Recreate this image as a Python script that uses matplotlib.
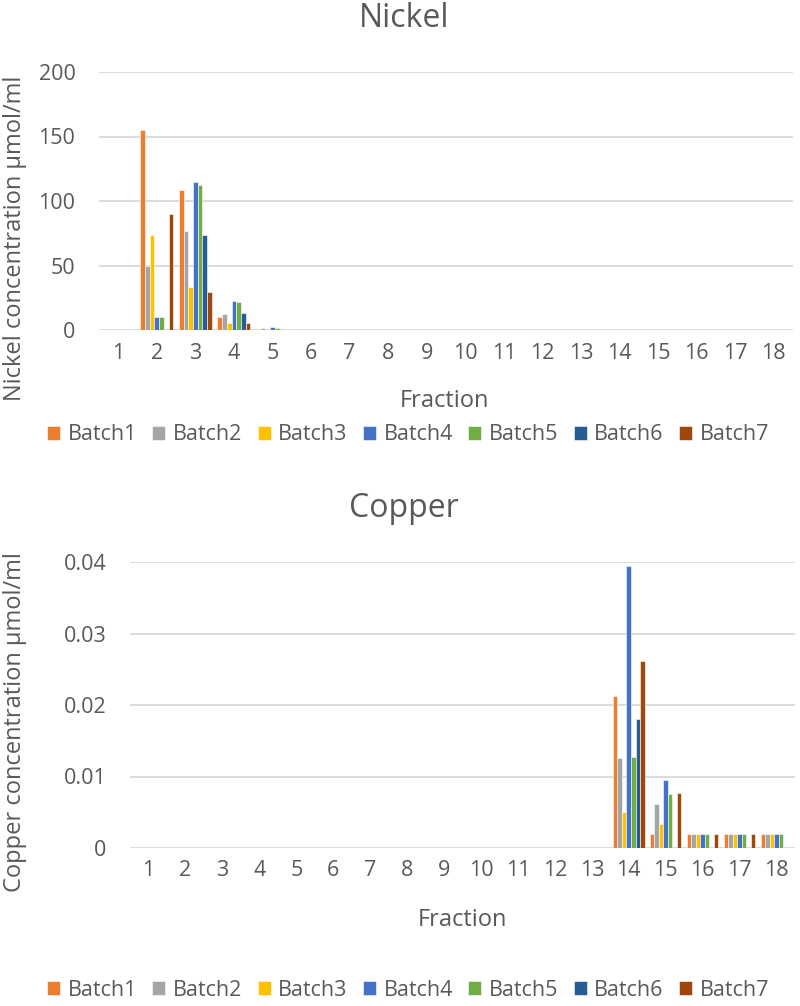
import numpy as np
import matplotlib.pyplot as plt

plt.rcParams['font.family'] = ['Open Sans', 'DejaVu Sans']

fractions = [str(i) for i in range(1, 19)]
batches = ['Batch1', 'Batch2', 'Batch3', 'Batch4', 'Batch5', 'Batch6', 'Batch7']
colors = ['#ED7D31', '#A5A5A5', '#FFC000', '#4472C4', '#70AD47', '#255E91', '#9E480E']

# Nickel, fractions 1..5 (rest zero)
ni_b1 = [0, 155.0, 108.7, 9.8, 0.3]
ni_b2 = [0, 49.6, 77.1, 12.1, 1.5]
ni_b3 = [0, 73.8, 33.7, 5.7, 0.3]
ni_b4 = [0, 10.3, 114.9, 22.4, 2.6]
ni_b5 = [0, 9.8, 112.6, 21.6, 1.5]
ni_b6 = [0, 0, 73.8, 13.4, 0.4]
ni_b7 = [0, 90.0, 29.3, 5.4, 0.2]

# Copper, fractions 14..18 (rest zero)
cu_b1 = [0.0212, 0.0020, 0.0020, 0.0020, 0.0020]
cu_b2 = [0.0126, 0.0062, 0.0020, 0.0020, 0.0020]
cu_b3 = [0.0050, 0.0033, 0.0020, 0.0020, 0.0020]
cu_b4 = [0.0394, 0.0095, 0.0020, 0.0020, 0.0020]
cu_b5 = [0.0127, 0.0076, 0.0020, 0.0020, 0.0020]
cu_b6 = [0.0181, 0, 0, 0, 0]
cu_b7 = [0.0262, 0.0077, 0.0020, 0.0020, 0]

ni = [v + [0] * 13 for v in [ni_b1, ni_b2, ni_b3, ni_b4, ni_b5, ni_b6, ni_b7]]
cu = [[0] * 13 + v for v in [cu_b1, cu_b2, cu_b3, cu_b4, cu_b5, cu_b6, cu_b7]]

txt = '#595959'
W, H = 800, 1006
fig = plt.figure(figsize=(W / 100, H / 100), dpi=100)


def panel(left, right, top, bottom, data, title, ylabel, yticks, yfmt,
          title_xy, xlab_xy, ylab_y, leg_y):
    ax = fig.add_axes([left / W, 1 - bottom / H, (right - left) / W, (bottom - top) / H])
    x = np.arange(len(fractions))
    step = 0.122
    for i, (vals, c, lab) in enumerate(zip(data, colors, batches)):
        ax.bar(x + (i - 3) * step, vals, width=step, color=c, edgecolor='white',
               linewidth=0.4, label=lab, zorder=3)
    ax.set_xlim(-0.5, len(fractions) - 0.5)
    ax.set_ylim(yticks[0], yticks[-1])
    ax.set_yticks(yticks)
    ax.set_yticklabels([yfmt(v) for v in yticks])
    ax.set_xticks(x)
    ax.set_xticklabels(fractions)
    ax.grid(axis='y', color='#D9D9D9', linewidth=1.3, zorder=0)
    for s in ax.spines.values():
        s.set_visible(False)
    ax.tick_params(length=0, colors=txt, labelsize=15.5)
    ax.tick_params(axis='x', pad=9)
    ax.tick_params(axis='y', pad=17)
    fig.text(title_xy[0] / W, 1 - title_xy[1] / H, title, ha='center',
             va='baseline', fontsize=23, color=txt)
    fig.text(xlab_xy[0] / W, 1 - xlab_xy[1] / H, 'Fraction', ha='center',
             va='baseline', fontsize=17, color=txt)
    fig.text(15 / W, 1 - ylab_y / H, ylabel, rotation=90,
             ha='center', va='center', fontsize=17, color=txt)
    fig.legend(*ax.get_legend_handles_labels(), loc='center',
               bbox_to_anchor=(408 / W, 1 - leg_y / H), ncol=7, frameon=False,
               fontsize=15.5, labelcolor=txt, handlelength=0.6, handleheight=0.6,
               handletextpad=0.35, columnspacing=0.72, borderpad=0, borderaxespad=0)
    return ax


panel(99, 793, 72, 330, ni, 'Nickel', 'Nickel concentration µmol/ml',
      [0, 50, 100, 150, 200], lambda v: f'{v:g}',
      (404, 27), (444, 407), 238, 435)
panel(130, 795, 562, 848, cu, 'Copper', 'Copper concentration µmol/ml',
      [0, 0.01, 0.02, 0.03, 0.04], lambda v: '0' if v == 0 else f'{v:.2f}',
      (404, 517), (462, 926), 722, 990)

fig.savefig('out.png', dpi=100)
